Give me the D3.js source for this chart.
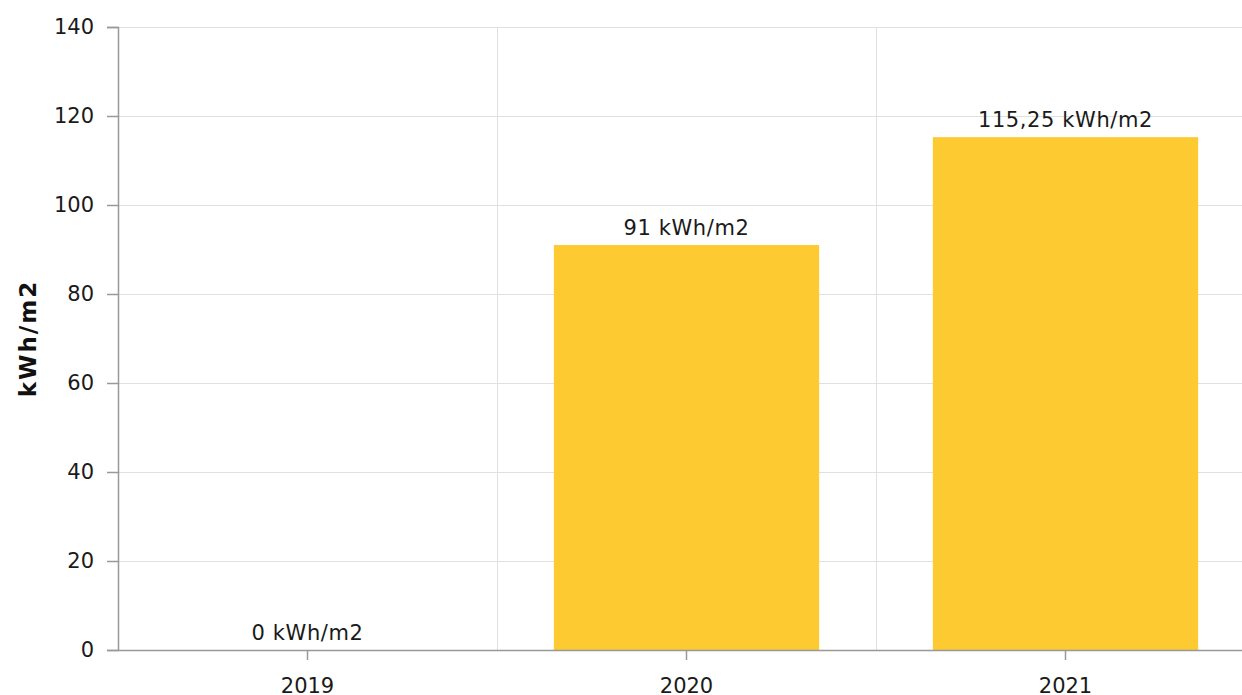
<!DOCTYPE html>
<html><head><meta charset="utf-8">
<script src="https://cdn.jsdelivr.net/npm/d3@7"></script>
<style>body{margin:0;background:#fff}svg{display:block}text{font-family:"DejaVu Sans",Verdana,sans-serif}</style>
</head><body><svg id="c" width="1242" height="695"></svg>
<script>
const categories = ["2019","2020","2021"];
const values = [0, 91, 115.25];
const labels = ["0 kWh/m2","91 kWh/m2","115,25 kWh/m2"];
const yTicks = [0,20,40,60,80,100,120,140];
const yTitle = "kWh/m2";

const svg = d3.select("#c");
const m = {l:118, t:27, b:650, r:1255};
const x = d3.scaleBand().domain(categories).range([m.l, m.r]).paddingInner(0).paddingOuter(0);
const y = d3.scaleLinear().domain([0,140]).range([m.b, m.t]);
const FF = "DejaVu Sans, Verdana, sans-serif";

svg.append("g").selectAll("line").data(yTicks.filter(d=>d>0)).join("line")
  .attr("x1", m.l).attr("x2", m.r).attr("y1", d=>y(d)).attr("y2", d=>y(d))
  .attr("stroke", "#e0e0e0").attr("stroke-width", 1).attr("shape-rendering","crispEdges");
svg.append("g").selectAll("line").data(categories.slice(1)).join("line")
  .attr("x1", d=>x(d)).attr("x2", d=>x(d)).attr("y1", m.t).attr("y2", m.b)
  .attr("stroke", "#e0e0e0").attr("stroke-width", 1).attr("shape-rendering","crispEdges");

const bw = x.bandwidth()*0.70;
svg.append("g").selectAll("rect").data(categories).join("rect")
  .attr("x", (d)=>x(d)+x.bandwidth()/2-bw/2).attr("width", bw)
  .attr("y", (d,i)=>y(values[i])).attr("height", (d,i)=>y(0)-y(values[i]))
  .attr("fill", "#fdca32");

svg.append("g").selectAll("text").data(categories).join("text")
  .attr("x", d=>x(d)+x.bandwidth()/2).attr("y", (d,i)=>y(values[i])-10)
  .attr("text-anchor","middle").attr("font-size", 21).attr("letter-spacing", 0.6).attr("fill","#1a1a1a")
  .text((d,i)=>labels[i]);

const ya = svg.append("g").attr("transform",`translate(${m.l},0)`)
  .call(d3.axisLeft(y).tickValues(yTicks).tickSize(11).tickPadding(13));
ya.select(".domain").attr("stroke","#999").attr("stroke-width",1.5);
ya.selectAll(".tick line").attr("stroke","#999").attr("stroke-width",1.5);
ya.selectAll(".tick text").attr("font-size",21).attr("fill","#1a1a1a").attr("font-family",FF);

const xa = svg.append("g").attr("transform",`translate(0,${m.b})`)
  .call(d3.axisBottom(x).tickSize(10).tickPadding(18).tickSizeOuter(0));
xa.select(".domain").attr("stroke","#999").attr("stroke-width",1.5);
xa.selectAll(".tick line").attr("stroke","#999").attr("stroke-width",1.5);
xa.selectAll(".tick text").attr("font-size",21).attr("fill","#1a1a1a").attr("font-family",FF);

svg.append("text").attr("transform",`translate(36,${(m.t+m.b)/2}) rotate(-90)`)
  .attr("text-anchor","middle").attr("font-size",23).attr("font-weight","bold").attr("letter-spacing",2).attr("fill","#111")
  .text(yTitle);
</script></body></html>
